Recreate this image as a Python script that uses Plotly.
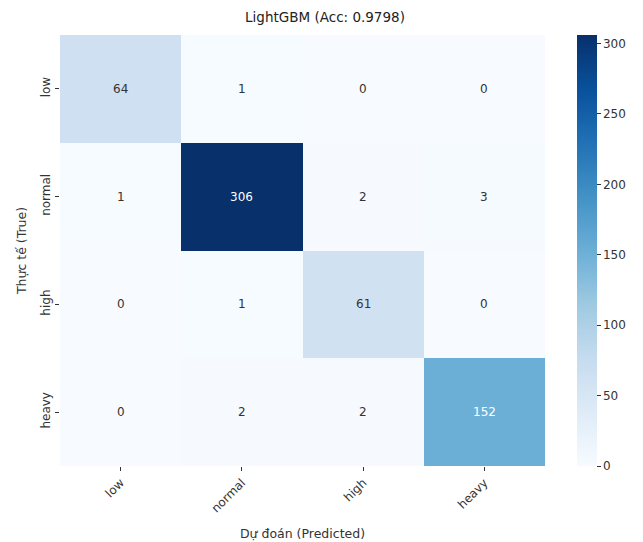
import plotly.graph_objects as go
import plotly.express as px

labels = ["low", "normal", "high", "heavy"]
matrix = [
    [64, 1, 0, 0],
    [1, 306, 2, 3],
    [0, 1, 61, 0],
    [0, 2, 2, 152],
]
title = "LightGBM (Acc: 0.9798)"
zmax = max(max(r) for r in matrix)

fig = go.Figure(go.Heatmap(
    z=matrix, x=labels, y=labels,
    colorscale=px.colors.sequential.Blues,
    zmin=0, zmax=zmax, xgap=0, ygap=0,
    hoverinfo="skip",
    colorbar=dict(
        x=1.066, xanchor="left", xpad=0, ypad=0,
        thickness=20, len=1.0, y=0.5, yanchor="middle",
        tickvals=[0, 50, 100, 150, 200, 250, 300],
        ticks="outside", ticklen=4, tickcolor="#333",
        outlinewidth=0,
        tickfont=dict(size=12, color="#333"),
    ),
))

annots = []
for i, row in enumerate(matrix):
    for j, v in enumerate(row):
        annots.append(dict(
            x=labels[j], y=labels[i], text=str(v), showarrow=False,
            font=dict(size=12, color="white" if v / zmax > 0.45 else "#333"),
        ))

fig.update_layout(
    width=643, height=542,
    margin=dict(l=60, r=98, t=35, b=76, autoexpand=False),
    paper_bgcolor="white", plot_bgcolor="white",
    font=dict(family="DejaVu Sans", color="#333"),
    title=dict(text=title, x=325 / 643, xanchor="center",
               y=1 - 17 / 542, yanchor="middle", font=dict(size=13.5, color="#222")),
    annotations=annots,
    xaxis=dict(title=dict(text="Dự đoán (Predicted)", font=dict(size=12.5), standoff=14),
               tickangle=-45, ticks="outside", ticklen=4, tickcolor="#333",
               tickfont=dict(size=12), showgrid=False, zeroline=False),
    yaxis=dict(title=dict(text="Thực tế (True)", font=dict(size=12.5), standoff=9),
               autorange="reversed", tickangle=-90, ticks="outside", ticklen=4,
               tickcolor="#333", tickfont=dict(size=12), showgrid=False, zeroline=False),
)

fig.write_html("out.html")
